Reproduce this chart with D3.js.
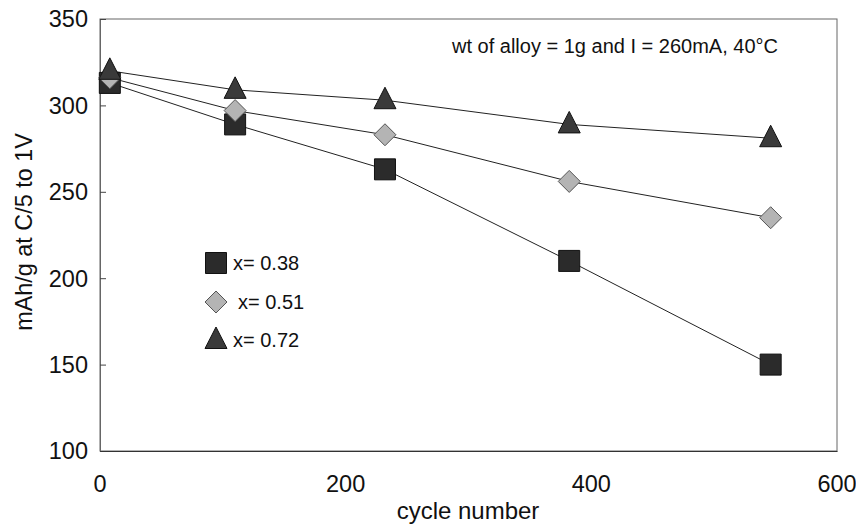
<!DOCTYPE html>
<meta charset="utf-8">
<html>
<head>
<script src="https://cdnjs.cloudflare.com/ajax/libs/d3/7.8.5/d3.min.js"></script>
<style>
  body { margin: 0; background: #fff; }
  text { font-family: "Liberation Sans", Arial, sans-serif; fill: #111; }
</style>
</head>
<body>
<div id="chart"></div>
<script>
// cycle numbers and capacities (mAh/g) per alloy composition
var cycles = [8, 110, 232, 382, 546];
var seriesNames = ["x= 0.38", "x= 0.51", "x= 0.72"];
var cap038 = [313, 289, 263, 210, 150];
var cap051 = [316, 297, 283, 256, 235];
var cap072 = [320, 309, 303, 289, 281];
var xTicks = [0, 200, 400, 600];
var yTicks = [100, 150, 200, 250, 300, 350];

var drawChart = function() {
  var width = 856, height = 527;
  var pLeft = 100, pRight = 837, pTop = 19, pBottom = 451;

  var svg = d3.select("#chart").append("svg")
    .attr("width", width)
    .attr("height", height);

  var x = d3.scaleLinear().domain([0, 600]).range([pLeft, pRight]);
  var y = d3.scaleLinear().domain([100, 350]).range([pBottom, pTop]);

  // frame
  svg.append("rect")
    .attr("x", pLeft).attr("y", pTop)
    .attr("width", pRight - pLeft).attr("height", pBottom - pTop)
    .attr("fill", "none").attr("stroke", "#666").attr("stroke-width", 1);

  // axes with small inward ticks
  var yAxis = svg.append("g")
    .attr("transform", "translate(" + pLeft + ",0)")
    .call(d3.axisRight(y).tickValues(yTicks).tickSize(6).tickFormat(""));
  yAxis.select(".domain").attr("stroke", "#666");
  yAxis.selectAll("line").attr("stroke", "#444");

  var xAxis = svg.append("g")
    .attr("transform", "translate(0," + pBottom + ")")
    .call(d3.axisTop(x).tickValues(xTicks).tickSize(0).tickFormat(""));
  xAxis.select(".domain").attr("stroke", "#333");

  svg.selectAll(".ylab").data(yTicks).enter().append("text")
    .attr("class", "ylab")
    .attr("x", pLeft - 12).attr("y", function(d){ return y(d); })
    .attr("dy", "0.36em")
    .attr("text-anchor", "end")
    .style("font-size", "23.5px")
    .text(function(d){ return d; });

  svg.selectAll(".xlab").data(xTicks).enter().append("text")
    .attr("class", "xlab")
    .attr("x", function(d){ return x(d); })
    .attr("y", pBottom + 33)
    .attr("dy", "0.36em")
    .attr("text-anchor", "middle")
    .style("font-size", "23.5px")
    .text(function(d){ return d; });

  svg.append("text")
    .attr("x", 468).attr("y", 519)
    .attr("text-anchor", "middle")
    .style("font-size", "24px")
    .text("cycle number");

  svg.append("text")
    .attr("transform", "translate(32,232) rotate(-90)")
    .attr("text-anchor", "middle")
    .style("font-size", "23.4px")
    .text("mAh/g at C/5 to 1V");

  svg.append("text")
    .attr("x", 452).attr("y", 53)
    .style("font-size", "20px")
    .text("wt of alloy = 1g and I = 260mA, 40°C");

  // series
  var series = [
    { name: seriesNames[0], values: cap038, shape: "square", fill: "#2b2b2b", stroke: "#111" },
    { name: seriesNames[1], values: cap051, shape: "diamond", fill: "#b4b4b4", stroke: "#555" },
    { name: seriesNames[2], values: cap072, shape: "triangle", fill: "#3a3a3a", stroke: "#111" }
  ];

  function markerPath(shape) {
    if (shape === "square") return "M-10.5,-10.5H10.5V10.5H-10.5Z";
    if (shape === "diamond") return "M0,-11L11,0L0,11L-11,0Z";
    return "M0,-13L11,8.5L-11,8.5Z";
  }

  var line = d3.line()
    .x(function(d, i){ return x(cycles[i]); })
    .y(function(d){ return y(d); });

  series.forEach(function(s) {
    svg.append("path")
      .datum(s.values)
      .attr("d", line)
      .attr("fill", "none")
      .attr("stroke", "#222")
      .attr("stroke-width", 1);
  });

  series.forEach(function(s) {
    svg.selectAll(".m-" + s.shape).data(s.values).enter().append("path")
      .attr("class", "m-" + s.shape)
      .attr("transform", function(d, i){ return "translate(" + x(cycles[i]) + "," + y(d) + ")"; })
      .attr("d", markerPath(s.shape))
      .attr("fill", s.fill)
      .attr("stroke", s.stroke)
      .attr("stroke-width", 1);
  });

  // legend
  var legendY = [263, 302, 340];
  var legendTextX = [233, 238, 233];
  series.forEach(function(s, i) {
    svg.append("path")
      .attr("transform", "translate(216," + legendY[i] + ")")
      .attr("d", markerPath(s.shape))
      .attr("fill", s.fill)
      .attr("stroke", s.stroke);
    svg.append("text")
      .attr("x", legendTextX[i]).attr("y", legendY[i])
      .attr("dy", "0.36em")
      .style("font-size", "20px")
      .text(s.name);
  });
};

drawChart();
</script>
</body>
</html>
